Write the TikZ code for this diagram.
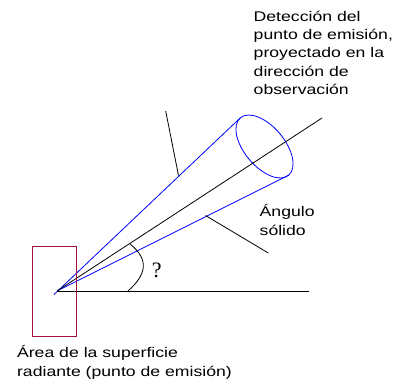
\documentclass[tikz,border=0pt]{standalone}
\usepackage{fontspec}
\setmainfont{Liberation Sans}
\newfontfamily\labfont[FakeStretch=1.26]{Liberation Sans}
\newfontfamily\qfont{Liberation Serif}
\usetikzlibrary{shapes.geometric}
\definecolor{rectred}{RGB}{160,16,64}
\begin{document}
\begin{tikzpicture}[x=1pt,y=-1pt,line width=0.8pt,
  lab/.style={font=\labfont\fontsize{14}{18.2}\selectfont,align=left,inner sep=0pt,anchor=base west},
  conebase/.style={ellipse,draw=blue,minimum width=75pt,minimum height=40pt,inner sep=0pt,outer sep=0pt},
  ray/.style={draw=blue},
  leader/.style={draw=black}]
\useasboundingbox (0,0) rectangle (402,388);
\coordinate (apex) at (57,291);
\coordinate (tail) at (54,294.5);
\node[conebase,rotate=-50] (cone) at (264.5,146.5) {};
\coordinate (axisend) at (322,118);
\coordinate (horizend) at (309,291);
\coordinate (l1a) at (165.7,111);
\coordinate (l1b) at (178.5,175.5);
\coordinate (l2a) at (205.5,215.5);
\coordinate (l2b) at (268.3,253);
\coordinate (arcA) at (130,244);
\coordinate (arcB) at (128,291);
% rays
\draw[ray] (tail) -- (cone.west);
\draw[ray] (apex) -- (cone.east);
\draw (apex) -- (axisend);
\draw (apex) -- (horizend);
% leaders
\draw[leader] (l1a) -- (l1b);
\draw[leader] (l2a) -- (l2b);
% angle
\draw (arcA) .. controls (150,260) and (146,275) .. (arcB);
\node[font=\qfont\fontsize{22}{22}\selectfont,inner sep=0pt,anchor=base west] (q) at (151.5,277.3) {?};
% emitting area
\node[draw=rectred,inner sep=0pt,minimum width=44pt,minimum height=90pt] (area) at (54,291) {};
% labels
\node[lab] (det) at (253.3,94.3) {Detección del\\punto de emisión,\\proyectado en la\\dirección de\\observación};
\node[lab] (ang) at (259.3,235) {Ángulo\\sólido};
\node[lab] (arealab) at (16.7,376) {Área de la superficie\\radiante (punto de emisión)};
\end{tikzpicture}
\end{document}
